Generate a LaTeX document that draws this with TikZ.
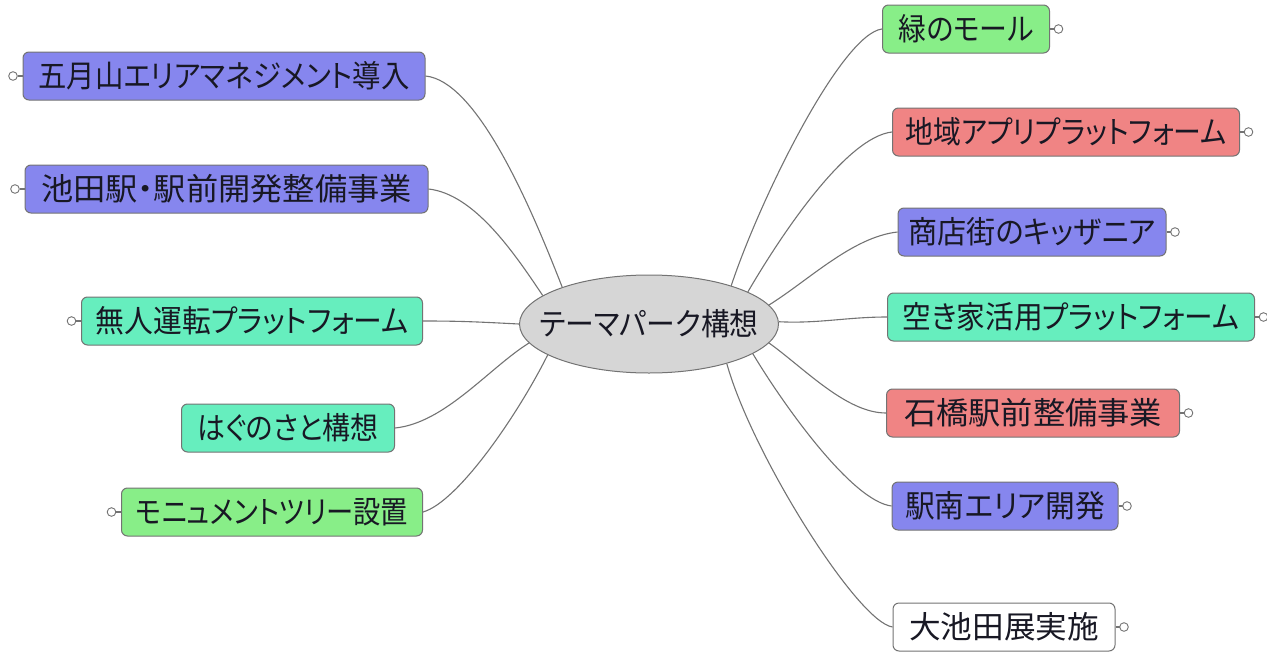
\documentclass[tikz,border=0pt]{standalone}
\usepackage{fontspec}
\usepackage{graphicx}
\newfontfamily\jp[RawFeature=+palt]{Noto Sans CJK JP}
\newcommand{\sq}[2]{\scalebox{#1}[1]{#2}}
\definecolor{cblue}{RGB}{134,134,238}
\definecolor{cgreen}{RGB}{136,238,136}
\definecolor{cteal}{RGB}{102,238,190}
\definecolor{cred}{RGB}{240,132,132}
\definecolor{cgray}{RGB}{214,214,214}
\definecolor{edge}{RGB}{115,115,115}
\definecolor{ink}{RGB}{24,24,36}
\usetikzlibrary{shapes.geometric}
\tikzset{
  topic/.style={draw=edge, line width=1pt, rounded corners=6pt, minimum height=48pt,
    inner sep=0pt, text=ink, font=\jp\fontsize{31}{34}\selectfont},
  hub/.style={draw=edge, line width=1pt, ellipse, fill=cgray, minimum width=259pt,
    minimum height=98pt, inner sep=0pt, text=ink, font=\jp\fontsize{31}{34}\selectfont},
  link/.style={draw=edge, line width=1.1pt},
  knob/.style={draw=edge, line width=0.9pt, fill=white},
}
\begin{document}
\begin{tikzpicture}[x=1pt,y=-1pt]
\useasboundingbox (0,0) rectangle (1267,653);
\node[hub] (c) at (649,324) {\makebox[0pt][c]{\sq{0.93}{テーマパーク構想}}};
% left
\node[topic, fill=cblue, minimum width=402pt] (l1) at (224,76) {\sq{0.915}{五月山エリアマネジメント導入}};
\node[topic, fill=cblue, minimum width=403pt] (l2) at (226.5,189) {\sq{1.04}{池田駅・駅前開発整備事業}};
\node[topic, fill=cteal, minimum width=341pt] (l3) at (252,321) {\sq{0.93}{無人運転プラットフォーム}};
\node[topic, fill=cteal, minimum width=213pt] (l4) at (288,428) {\sq{0.9}{はぐのさと構想}};
\node[topic, fill=cgreen, minimum width=301pt] (l5) at (272,512) {\sq{0.88}{モニュメントツリー設置}};
% right
\node[topic, fill=cgreen, minimum width=167pt] (r1) at (966,29) {\sq{0.9}{緑のモール}};
\node[topic, fill=cred, minimum width=347pt] (r2) at (1066,132) {\sq{0.9}{地域アプリプラットフォーム}};
\node[topic, fill=cblue, minimum width=268pt] (r3) at (1032,232) {\sq{0.94}{商店街のキッザニア}};
\node[topic, fill=cteal, minimum width=367pt] (r4) at (1071,317) {\sq{0.925}{空き家活用プラットフォーム}};
\node[topic, fill=cred, minimum width=293pt] (r5) at (1033,413) {\sq{1.04}{石橋駅前整備事業}};
\node[topic, fill=cblue, minimum width=226pt] (r6) at (1005,506) {\sq{0.96}{駅南エリア開発}};
\node[topic, fill=white, minimum width=222pt] (r7) at (1004,627) {\sq{1.02}{大池田展実施}};
% connectors left
\draw[link] (l1.east) .. controls +(50,5) and +(-35,-90) .. (c.157);
\draw[link] (l2.east) .. controls +(45,5) and +(-30,-45) .. (c.165);
\draw[link] (l3.east) .. controls +(40,0) and +(-40,-2) .. (c.180);
\draw[link] (l4.east) .. controls +(50,-5) and +(-40,25) .. (c.189);
\draw[link] (l5.east) .. controls +(35,-10) and +(-30,60) .. (c.197);
% connectors right
\draw[link] (r1.west) .. controls +(-40,5) and +(30,-90) .. (c.25);
\draw[link] (r2.west) .. controls +(-45,5) and +(35,-60) .. (c.18);
\draw[link] (r3.west) .. controls +(-45,5) and +(40,-25) .. (c.9);
\draw[link] (r4.west) .. controls +(-40,0) and +(40,2) .. (c.1);
\draw[link] (r5.west) .. controls +(-40,0) and +(35,25) .. (c.351);
\draw[link] (r6.west) .. controls +(-40,-5) and +(30,50) .. (c.344);
\draw[link] (r7.west) .. controls +(-35,-5) and +(25,90) .. (c.333);
% collapse knobs
\foreach \n in {l1,l2,l3,l5} {
  \draw[link] (\n.west) -- ++(-5,0);
  \draw[knob] (\n.west) ++(-9.5,0) circle[radius=4.3];
}
\foreach \n in {r1,r2,r3,r4,r5,r6,r7} {
  \draw[link] (\n.east) -- ++(4,0);
  \draw[knob] (\n.east) ++(8.5,0) circle[radius=4.3];
}
\end{tikzpicture}
\end{document}
